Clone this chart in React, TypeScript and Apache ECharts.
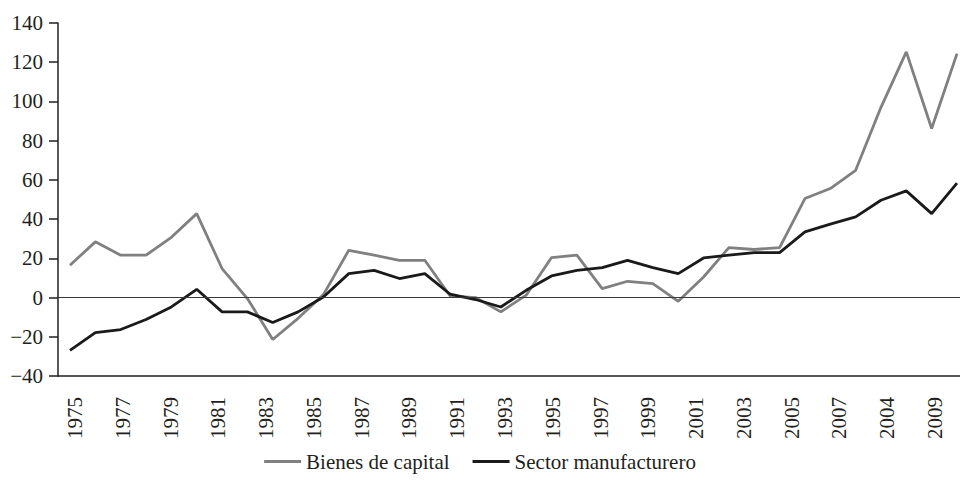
import React, { useEffect, useRef } from "react";
import * as echarts from "echarts";

const years = [
  1975, 1976, 1977, 1978, 1979, 1980, 1981, 1982, 1983, 1984, 1985, 1986,
  1987, 1988, 1989, 1990, 1991, 1992, 1993, 1994, 1995, 1996, 1997, 1998,
  1999, 2000, 2001, 2002, 2003, 2004, 2005, 2006, 2007, 2008, 2009, 2010,
];

const bienesDeCapital = [
  16.5, 28.4, 21.6, 21.6, 30.7, 42.8, 14.8, -0.5, -21.4, -10.6, 1.5, 24.1,
  21.6, 19.0, 19.0, 0.8, 0.0, -7.3, 1.2, 20.4, 21.6, 4.6, 8.3, 7.1,
  -1.9, 10.5, 25.5, 24.5, 25.5, 50.5, 55.6, 64.9, 97.0, 125.3, 86.2, 124.4,
];

const sectorManufacturero = [
  -26.9, -17.9, -16.3, -11.2, -4.8, 4.2, -7.3, -7.3, -12.7, -7.3, 0.3, 12.2,
  13.9, 9.7, 12.2, 1.7, -1.0, -4.8, 3.7, 11.0, 13.9, 15.3, 19.0, 15.3,
  12.2, 20.2, 21.6, 22.9, 22.9, 33.5, 37.4, 41.1, 49.6, 54.4, 42.8, 58.4,
];

const tickLabels = [
  "1975", "1977", "1979", "1981", "1983", "1985", "1987", "1989", "1991",
  "1993", "1995", "1997", "1999", "2001", "2003", "2005", "2007", "2004",
  "2009",
];

const seriesNames = ["Bienes de capital", "Sector manufacturero"];
const seriesColors = ["#808080", "#1a1a1a"];

const FONT = "'Liberation Serif', 'Times New Roman', serif";
const TEXT = "#231f20";
const AXIS = "#231f20";

export default function App() {
  const ref = useRef<HTMLDivElement>(null);

  useEffect(() => {
    if (!ref.current) return;
    const chart = echarts.init(ref.current, undefined, { renderer: "svg" });
    const pxPerYear = 887 / 35;
    chart.setOption({
      animation: false,
      backgroundColor: "#ffffff",
      grid: [
        { left: 58, right: 0, top: 23, bottom: 104 },
        { left: 75, right: 25, top: 23, bottom: 104 },
      ],
      legend: {
        data: seriesNames.map((n) => ({ name: n, icon: "rect" })),
        left: "center",
        top: 446,
        itemWidth: 37,
        itemHeight: 3,
        itemGap: 23,
        textStyle: { fontFamily: FONT, fontSize: 21, color: TEXT },
      },
      xAxis: [
        {
          type: "value",
          gridIndex: 0,
          min: 1975 - 12 / pxPerYear,
          max: 2010 + 3 / pxPerYear,
          axisLine: { show: true, onZero: false, lineStyle: { color: AXIS, width: 1.5 } },
          axisTick: { show: false },
          axisLabel: { show: false },
          splitLine: { show: false },
        },
        {
          type: "category",
          gridIndex: 1,
          data: tickLabels,
          boundaryGap: false,
          axisLine: { show: false },
          axisTick: { show: false },
          splitLine: { show: false },
          axisLabel: {
            interval: 0,
            rotate: 90,
            margin: 21,
            fontFamily: FONT,
            fontSize: 21,
            color: TEXT,
          },
        },
      ],
      yAxis: [
        {
          type: "value",
          gridIndex: 0,
          min: -40,
          max: 140,
          interval: 20,
          axisLine: { show: true, lineStyle: { color: AXIS, width: 1.5 } },
          axisTick: { show: true, length: 9, lineStyle: { color: AXIS, width: 1.5 } },
          axisLabel: {
            margin: 15,
            fontFamily: FONT,
            fontSize: 21,
            color: TEXT,
            formatter: (v: number) => (v < 0 ? "\u2212" + Math.abs(v) : String(v)),
          },
          splitLine: { show: false },
        },
        {
          type: "value",
          gridIndex: 1,
          show: false,
          min: -40,
          max: 140,
        },
      ],
      series: [
        {
          name: seriesNames[0],
          type: "line",
          xAxisIndex: 0,
          yAxisIndex: 0,
          symbol: "none",
          data: years.map((y, i) => [y, bienesDeCapital[i]]),
          lineStyle: { color: seriesColors[0], width: 2.8 },
          itemStyle: { color: seriesColors[0] },
          markLine: {
            silent: true,
            symbol: "none",
            label: { show: false },
            lineStyle: { color: "#3a3a3a", width: 1.2, type: "solid" },
            data: [{ yAxis: 0 }],
          },
          z: 2,
        },
        {
          name: seriesNames[1],
          type: "line",
          xAxisIndex: 0,
          yAxisIndex: 0,
          symbol: "none",
          data: years.map((y, i) => [y, sectorManufacturero[i]]),
          lineStyle: { color: seriesColors[1], width: 2.8 },
          itemStyle: { color: seriesColors[1] },
          z: 3,
        },
      ],
    });
    return () => chart.dispose();
  }, []);

  return (
    <div
      ref={ref}
      style={{ position: "absolute", left: 0, top: 0, width: 960, height: 480 }}
    />
  );
}
